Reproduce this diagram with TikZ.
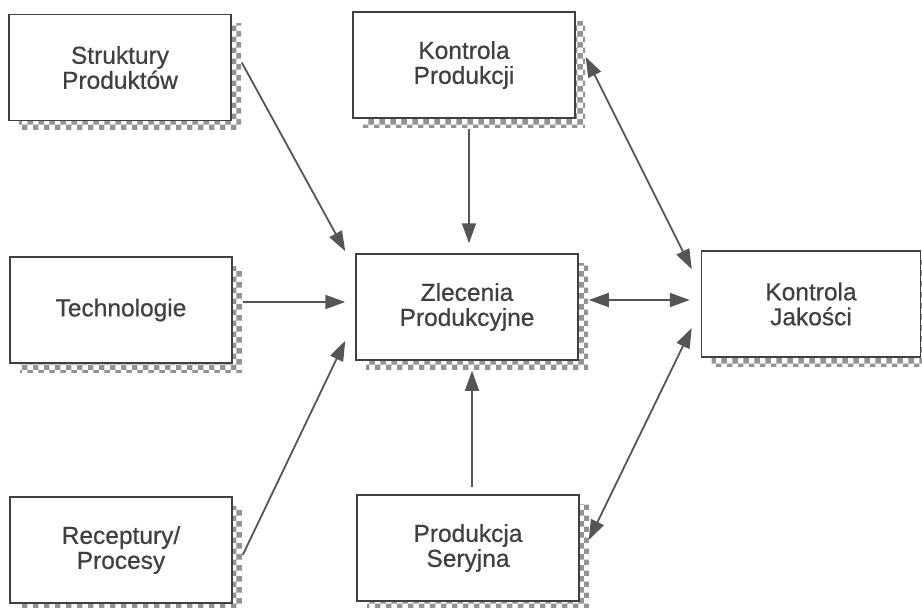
\documentclass[tikz,border=0pt]{standalone}
\usepackage{fontspec}
\setmainfont{Liberation Sans}
\newfontfamily\boxfont{Liberation Sans}[FakeBold=0.6]
\usetikzlibrary{arrows.meta,shadows,patterns}
\definecolor{ink}{HTML}{404040}
\definecolor{linegray}{HTML}{555555}
\begin{document}
\begin{tikzpicture}[x=1pt,y=-1pt,
    box/.style={draw=ink,line width=1.5pt,fill=white,minimum width=222pt,minimum height=106pt,
        align=center,text=ink,font=\boxfont\fontsize{24.5}{25}\selectfont,
        drop shadow={shadow xshift=10pt,shadow yshift=-9pt,opacity=1,fill=none,
            pattern=checkerboard,pattern color=gray!85}},
    link/.style={draw=linegray,line width=1.8pt,-{Triangle[length=20pt,width=14pt]}},
    both/.style={link,{Triangle[length=20pt,width=14pt]}-{Triangle[length=20pt,width=14pt]}}]
                \useasboundingbox (0,0) rectangle (922,608);
                \node [box] (struk) at (120,67.5) {Struktury\\Produktów};
                \node [box] (tech) at (121,310) {Technologie};
                \node [box] (rec) at (121,550) {Receptury/\\Procesy};
                \node [box] (kprod) at (464,65) {Kontrola\\Produkcji};
                \node [box] (zlec) at (467,307) {Zlecenia\\Produkcyjne};
                \node [box] (pser) at (468,548) {Produkcja\\Seryjna};
                \node [box,minimum width=219pt] (kjak) at (811,304) {Kontrola\\Jakości};
                \draw [link] ([shift={(10,-5)}]struk.east) -- ([shift={(-10,-2)}]zlec.north west);
                \draw [link] ([shift={(10,-8)}]tech.east) -- ([shift={(-10,-5)}]zlec.west);
                \draw [link] ([shift={(10,5)}]rec.east) -- ([shift={(-10,-20)}]zlec.south west);
                \draw [link] ([shift={(5,10)}]kprod.south) -- ([shift={(2,-10)}]zlec.north);
                \draw [link] ([shift={(4,-7)}]pser.north) -- ([shift={(5,10)}]zlec.south);
                \draw [both] ([shift={(10,-7)}]zlec.east) -- ([shift={(-11,-4)}]kjak.west);
                \draw [both] ([shift={(10,-8)}]kprod.east) -- ([shift={(-9,19)}]kjak.north west);
                \draw [both] ([shift={(9,-8)}]pser.east) -- ([shift={(-9,24)}]kjak.west);
            \end{tikzpicture}
\end{document}
